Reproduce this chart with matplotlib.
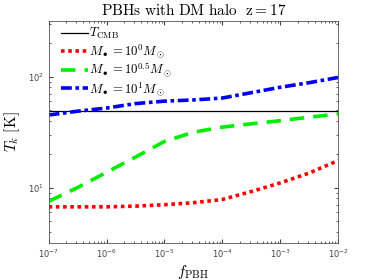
import numpy as np
import matplotlib
matplotlib.use("Agg")
import matplotlib.pyplot as plt

plt.rcParams['mathtext.fontset'] = 'cm'
plt.rcParams['font.family'] = 'DejaVu Sans'

# data
f_pbh = [1e-7, 10**-6.5, 1e-6, 10**-5.5, 1e-5, 10**-4.5, 1e-4, 10**-3.5, 1e-3, 10**-2.5, 1e-2]
T_m1 = [6.7, 6.7, 6.7, 6.8, 7.0, 7.3, 7.8, 9.2, 11.0, 13.5, 17.5]
T_m05 = [7.5, 10.0, 13.7, 18.8, 26.0, 31.5, 35.0, 37.5, 40.0, 43.0, 46.0]
T_m10 = [45.0, 48.7, 52.0, 57.0, 60.0, 61.5, 64.0, 71.5, 80.0, 88.0, 98.0]
T_cmb = 2.725 * 18

fig = plt.figure(figsize=(3.74, 2.8), dpi=100)
ax = fig.add_axes([0.13, 0.132, 0.774, 0.793])

ax.plot(f_pbh, [T_cmb] * len(f_pbh), color='k', lw=0.9, label=r'$T_{\rm CMB}$')
ax.plot(f_pbh, T_m1, color='red', ls=(0, (1, 1)), lw=2.6, label=r'$M_\bullet = 10^0 M_\odot$')
ax.plot(f_pbh, T_m05, color='#00ee00', ls=(0, (4, 2.5)), lw=2.6, label=r'$M_\bullet = 10^{0.5} M_\odot$')
ax.plot(f_pbh, T_m10, color='#0000ee', ls=(0, (3, 1, 1, 1)), lw=2.6, label=r'$M_\bullet = 10^1 M_\odot$')

ax.set_xscale('log')
ax.set_yscale('log')
ax.set_xlim(1e-7, 1e-2)
ax.set_ylim(10**0.5, 10**2.5)

ax.tick_params(which='both', direction='in', top=True, right=True, labelsize=6, colors='#444444')
ax.tick_params(which='major', length=3)
ax.tick_params(which='minor', length=1.5)
for s in ax.spines.values():
    s.set_color('#555555')
    s.set_linewidth(0.6)

ax.set_title(r'$\mathrm{PBHs\ with\ DM\ halo\ \ z=17}$', fontsize=11, pad=4)
ax.set_xlabel(r'$f_{\rm PBH}$', fontsize=11, labelpad=2)
ax.set_ylabel(r'$T_k\ [\mathrm{K}]$', fontsize=11, labelpad=4)

ax.legend(loc='upper left', bbox_to_anchor=(0.025, 1.0), frameon=False, fontsize=9.2,
          handlelength=2.1, handletextpad=0.1, labelspacing=0.05, borderaxespad=0.0)

fig.savefig('out.png', dpi=100)
